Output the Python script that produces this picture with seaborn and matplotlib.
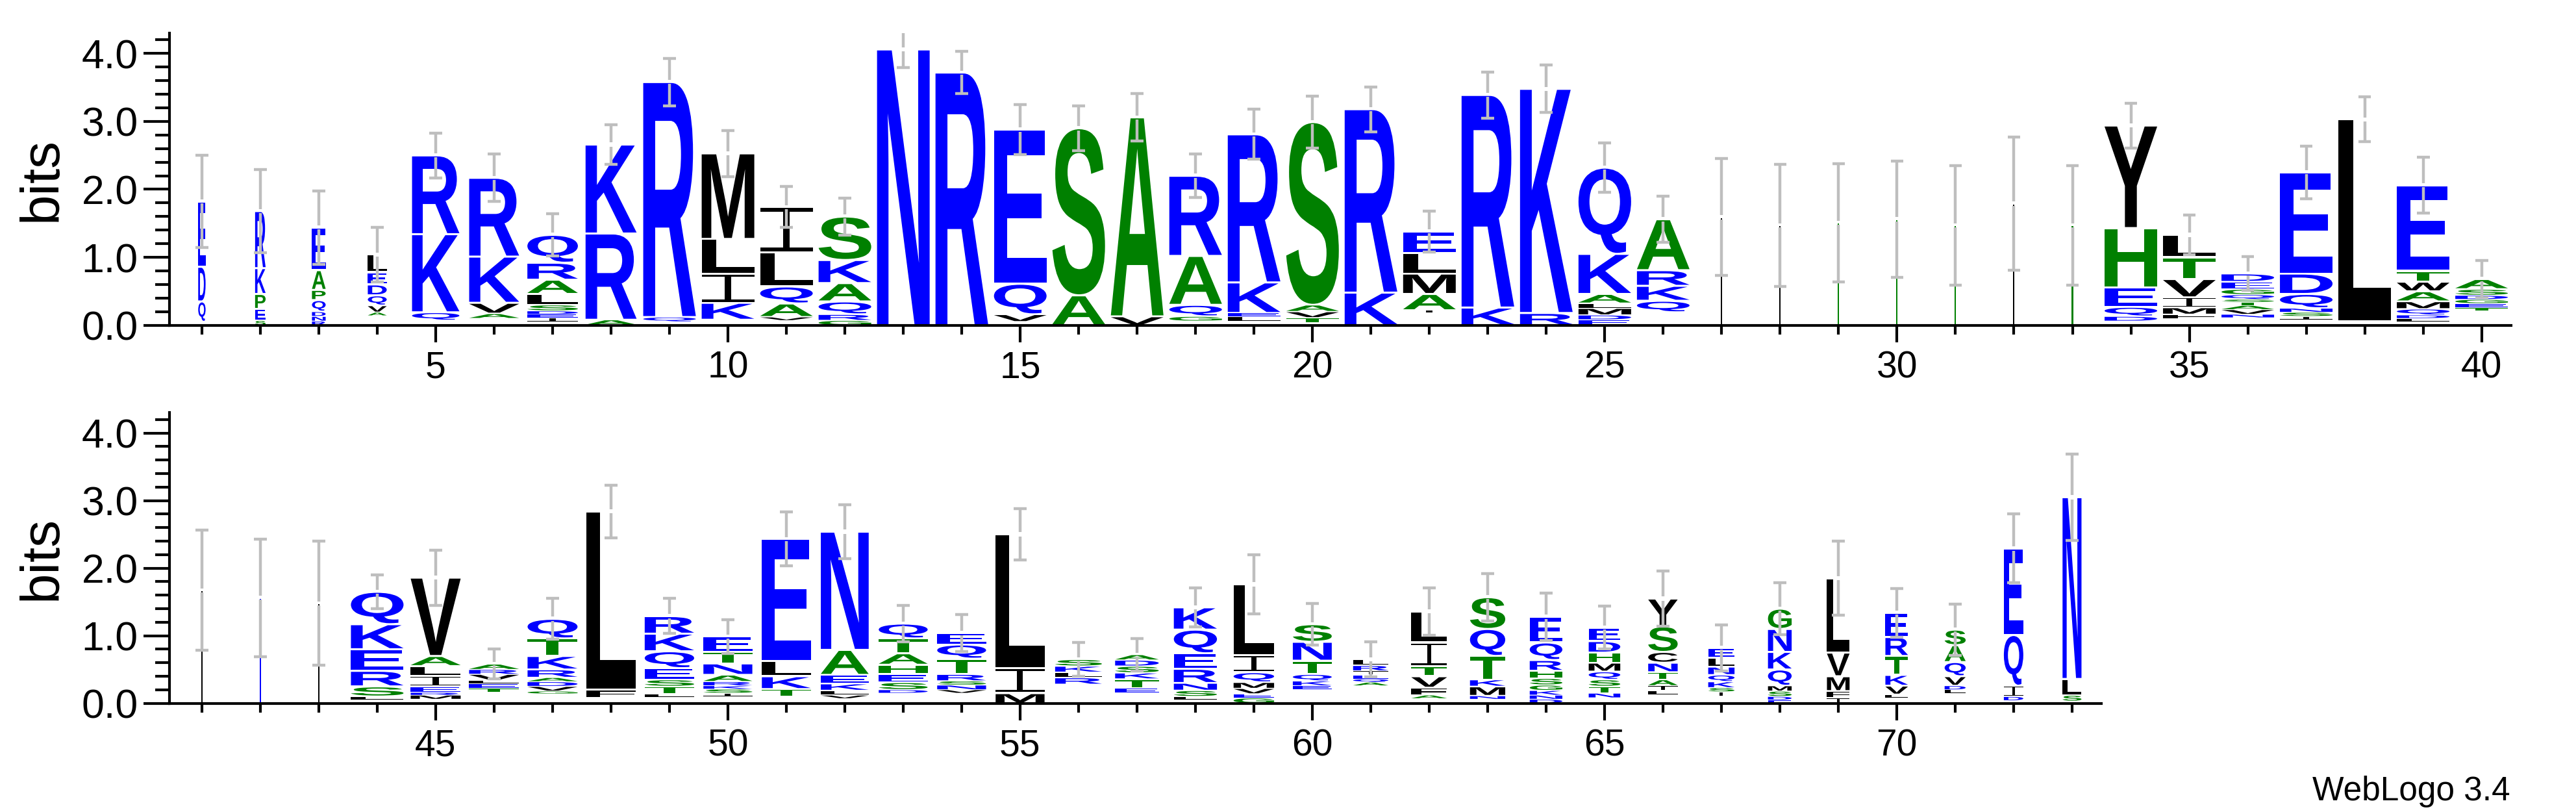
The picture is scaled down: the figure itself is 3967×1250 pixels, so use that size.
import numpy as np
import matplotlib
matplotlib.use("Agg")
import matplotlib.pyplot as plt
import seaborn as sns
from matplotlib.textpath import TextPath
from matplotlib.font_manager import FontProperties
from matplotlib.patches import PathPatch, Rectangle
from matplotlib.path import Path
from matplotlib.transforms import Affine2D
from matplotlib.ticker import FixedLocator

# ---------------- data ----------------
positions_top = list(range(1, 41))
letters_top = [
    "-QDE", "SEPKR", "RNDQPAE", "-AVQDEL", "-QKR", "-AVKR", "-IEDSLARQ", "ARK",
    "-QR", "-KILM", "-VAQLI", "GRQAKS", "N", "R", "-VQE", "AS", "VA", "-GQAR",
    "-LEKR", "-TVAS", "KR", "-IAMLE", "KR", "RK", "EDMLAKQ", "-QKRA",
    "L", "L", "S", "S", "S", "L", "S",
    "-DQEHY", "-FMIVTL", "-NVATSQGED", "-ISNQDE", "-L", "-LDQMAWTE", "-TEGDSA",
]
heights_top = [
    [0.05, 0.30, 0.51, 0.96],
    [0.07, 0.17, 0.22, 0.38, 0.84],
    [0.06, 0.07, 0.07, 0.17, 0.15, 0.29, 0.63],
    [0.14, 0.05, 0.10, 0.15, 0.16, 0.18, 0.26],
    [0.07, 0.12, 1.15, 1.16],
    [0.10, 0.07, 0.16, 0.68, 1.16],
    [0.05, 0.06, 0.05, 0.05, 0.09, 0.16, 0.21, 0.25, 0.41],
    [0.08, 1.27, 1.31],
    [0.05, 0.07, 3.46],
    [0.08, 0.25, 0.43, 0.51, 1.26],
    [0.07, 0.05, 0.20, 0.25, 0.50, 0.67],
    [0.07, 0.09, 0.19, 0.27, 0.34, 0.64],
    [4.06],
    [3.72],
    [0.05, 0.11, 0.45, 2.27],
    [0.44, 2.46],
    [0.13, 2.93],
    [0.06, 0.07, 0.17, 0.72, 1.18],
    [0.06, 0.07, 0.05, 0.45, 2.18],
    [0.04, 0.07, 0.09, 0.10, 2.69],
    [0.48, 2.70],
    [0.18, 0.04, 0.24, 0.30, 0.30, 0.32],
    [0.26, 3.13],
    [0.18, 3.30],
    [0.08, 0.07, 0.10, 0.07, 0.14, 0.59, 1.27],
    [0.19, 0.17, 0.22, 0.23, 0.75],
    [1.59], [1.47], [1.51], [1.56], [1.47], [1.79], [1.47],
    [0.06, 0.07, 0.14, 0.29, 0.87, 1.51],
    [0.10, 0.06, 0.10, 0.15, 0.27, 0.32, 0.33],
    [0.11, 0.05, 0.07, 0.06, 0.05, 0.04, 0.07, 0.08, 0.11, 0.12],
    [0.08, 0.05, 0.06, 0.06, 0.21, 0.30, 1.49],
    [0.06, 2.97],
    [0.05, 0.05, 0.05, 0.09, 0.11, 0.15, 0.14, 0.16, 1.26],
    [0.21, 0.05, 0.06, 0.06, 0.06, 0.09, 0.15],
]
errors_top = [0.68, 0.61, 0.54, 0.40, 0.33, 0.35, 0.31, 0.29, 0.35, 0.34,
              0.30, 0.27, 0.27, 0.31, 0.37, 0.33, 0.35, 0.32, 0.37, 0.38,
              0.33, 0.30, 0.34, 0.35, 0.36, 0.34, 0.86, 0.90, 0.87, 0.86,
              0.88, 0.98, 0.88, 0.33, 0.29, 0.25, 0.39, 0.33, 0.41, 0.27]
widths_top = [0.14, 0.20, 0.26, 0.36, 0.90, 0.95, 0.96, 0.97, 1, 1,
              1, 1, 1, 1, 1, 1, 1, 1, 1, 1,
              1, 1, 1, 1, 1, 1, 0.025, 0.025, 0.025, 0.025,
              0.025, 0.025, 0.025, 1, 1, 1, 1, 1, 1, 1]

positions_bot = list(range(41, 74))
letters_bot = [
    "L", "E", "L", "-LSREKQ", "-MREILAV", "-TELVRA", "-GVDARKTQ", "-FL",
    "-LTSEQKR", "-ISKRANTE", "-TKLE", "-VLKEAN", "-DSEHATQ", "-VNSRTQE", "MIL",
    "-RLKS", "-ETKSDA", "-LSNREQK", "GEVMQIL", "-EKQTNS", "-AQEIRL", "-AFVTIL",
    "-NMKTQS", "DNKGSHRQE", "-NTSQMHDE", "-LIATNCSY", "-ISKQNLE", "EDSMQKNG",
    "IFMVL", "-LVKTRE", "-LDVQAS", "-DIQE", "-SLN",
]
heights_bot = [
    [1.67], [1.56], [1.48],
    [0.05, 0.05, 0.15, 0.23, 0.32, 0.37, 0.48],
    [0.06, 0.06, 0.04, 0.09, 0.16, 0.14, 0.15, 1.16],
    [0.16, 0.06, 0.07, 0.05, 0.09, 0.07, 0.08],
    [0.14, 0.04, 0.07, 0.07, 0.06, 0.12, 0.20, 0.26, 0.29],
    [0.08, 0.12, 2.64],
    [0.09, 0.05, 0.11, 0.10, 0.17, 0.25, 0.26, 0.26],
    [0.10, 0.05, 0.06, 0.05, 0.06, 0.10, 0.17, 0.17, 0.23],
    [0.10, 0.11, 0.19, 0.23, 1.80],
    [0.07, 0.05, 0.07, 0.10, 0.13, 0.37, 1.75],
    [0.15, 0.05, 0.11, 0.12, 0.14, 0.17, 0.22, 0.22],
    [0.15, 0.05, 0.07, 0.06, 0.10, 0.23, 0.21, 0.17],
    [0.15, 0.37, 1.98],
    [0.28, 0.10, 0.08, 0.09, 0.10],
    [0.15, 0.07, 0.14, 0.09, 0.10, 0.09, 0.08],
    [0.05, 0.05, 0.09, 0.11, 0.21, 0.23, 0.35, 0.33],
    [0.08, 0.06, 0.08, 0.09, 0.15, 0.25, 1.05],
    [0.20, 0.06, 0.07, 0.10, 0.20, 0.28, 0.26],
    [0.26, 0.05, 0.05, 0.06, 0.06, 0.08, 0.09],
    [0.07, 0.05, 0.11, 0.17, 0.15, 0.35, 0.46],
    [0.06, 0.05, 0.14, 0.10, 0.35, 0.40, 0.47],
    [0.06, 0.06, 0.07, 0.08, 0.10, 0.11, 0.16, 0.26, 0.38],
    [0.08, 0.07, 0.10, 0.10, 0.12, 0.13, 0.15, 0.17, 0.20],
    [0.12, 0.07, 0.07, 0.09, 0.11, 0.14, 0.16, 0.38, 0.41],
    [0.10, 0.07, 0.06, 0.09, 0.10, 0.12, 0.13, 0.15],
    [0.05, 0.05, 0.08, 0.08, 0.24, 0.26, 0.34, 0.30],
    [0.08, 0.10, 0.22, 0.35, 1.10],
    [0.08, 0.05, 0.13, 0.16, 0.28, 0.28, 0.36],
    [0.15, 0.05, 0.06, 0.14, 0.21, 0.25, 0.23],
    [0.04, 0.06, 0.16, 0.75, 1.28],
    [0.03, 0.09, 0.24, 2.69],
]
errors_bot = [0.89, 0.87, 0.92, 0.25, 0.41, 0.22, 0.30, 0.39, 0.26, 0.25,
              0.40, 0.40, 0.27, 0.27, 0.38, 0.25, 0.24, 0.29, 0.44, 0.31,
              0.26, 0.35, 0.35, 0.35, 0.32, 0.41, 0.34, 0.38, 0.55, 0.36,
              0.38, 0.51, 0.64]
widths_bot = [0.025, 0.025, 0.025, 1.0, 0.95, 0.95, 0.95, 0.94, 0.94, 0.93,
              0.93, 0.91, 0.93, 0.93, 0.93, 0.89, 0.83, 0.82, 0.77, 0.74,
              0.67, 0.68, 0.67, 0.62, 0.60, 0.56, 0.50, 0.45, 0.43, 0.43,
              0.40, 0.37, 0.36]

tick_labels_y = ["0.0", "1.0", "2.0", "3.0", "4.0"]

# hydrophobicity colour scheme
BLUE, GREEN, BLACK = "#0000FF", "#008000", "#000000"
letter_colors = {}
for ch in "RKDENQ":
    letter_colors[ch] = BLUE
for ch in "SGHTAP":
    letter_colors[ch] = GREEN
for ch in "YVMCLFIW":
    letter_colors[ch] = BLACK

# ---------------- style ----------------
sns.set_theme(style="ticks", rc={
    "axes.linewidth": 3.0,
    "xtick.major.width": 3.0, "xtick.minor.width": 3.0,
    "ytick.major.width": 3.0, "ytick.minor.width": 3.0,
    "xtick.major.size": 19, "xtick.minor.size": 10,
    "ytick.major.size": 29, "ytick.minor.size": 16,
    "axes.edgecolor": "black",
    "xtick.color": "black", "ytick.color": "black",
    "axes.labelcolor": "black", "text.color": "black",
})
plt.rcParams["font.family"] = ["Liberation Sans", "DejaVu Sans"]

glyph_font = FontProperties(family="Liberation Sans", weight="bold")
_glyphs = {}


def serif_i_path(t=0.085, s=0.12):
    a, b = 0.5 - s / 2, 0.5 + s / 2
    verts = [(0, 0), (1, 0), (1, t), (b, t), (b, 1 - t), (1, 1 - t), (1, 1),
             (0, 1), (0, 1 - t), (a, 1 - t), (a, t), (0, t), (0, 0)]
    codes = [Path.MOVETO] + [Path.LINETO] * 11 + [Path.CLOSEPOLY]
    return Path(verts, codes)


def unit_glyph(ch):
    if ch not in _glyphs:
        if ch == "I":
            _glyphs[ch] = serif_i_path()
        else:
            tp = TextPath((0, 0), ch, size=1, prop=glyph_font)
            pts = np.concatenate(tp.to_polygons())
            x0, y0 = pts.min(axis=0)
            x1, y1 = pts.max(axis=0)
            tr = Affine2D().translate(-x0, -y0).scale(1.0 / (x1 - x0), 1.0 / (y1 - y0))
            _glyphs[ch] = tr.transform_path(tp)
    return _glyphs[ch]


FULL_W = 0.9
ERR_COLOR = "#BEBEBE"
ERR_LW = 3.2


def draw_logo(ax, positions, letters, heights, widths, errors):
    for pos, lets, hs, wf, err in zip(positions, letters, heights, widths, errors):
        w = FULL_W * wf
        y = 0.0
        for ch, h in zip(lets, hs):
            if ch != "-":
                gap = min(0.03, 0.2 * h)
                col = letter_colors[ch]
                if wf < 0.1:
                    # glyph squeezed to a hair line: render its ink box
                    ax.add_patch(Rectangle((pos - w / 2, y), w, h - gap / 2,
                                           facecolor=col, edgecolor="none", lw=0, zorder=2))
                else:
                    path = Affine2D().scale(w, h - gap).translate(pos - w / 2, y + gap / 2) \
                        .transform_path(unit_glyph(ch))
                    ax.add_patch(PathPatch(path, facecolor=col, edgecolor="none",
                                           lw=0, zorder=2))
            y += h
        top = y
        ax.vlines(pos, top + 0.03, top + err, color=ERR_COLOR, lw=ERR_LW, zorder=3)
        ax.vlines(pos, top - err, top - 0.03, color=ERR_COLOR, lw=ERR_LW, zorder=3)
        ax.hlines([top + err, top - err], pos - 0.11, pos + 0.11,
                  color=ERR_COLOR, lw=ERR_LW, zorder=3)


def style_axis(ax, xmin, xmax, first, last):
    ax.set_xlim(xmin, xmax)
    ax.set_ylim(0, 4.3)
    ax.set_yticks([0, 1, 2, 3, 4])
    ax.set_yticklabels(tick_labels_y)
    ax.yaxis.set_minor_locator(FixedLocator([v for v in np.round(np.arange(0.2, 4.3, 0.2), 1)
                                             if abs(v - round(v)) > 1e-6]))
    majors = [p for p in range(first, last + 1) if p % 5 == 0]
    ax.set_xticks(majors)
    ax.set_xticklabels([str(p) for p in majors])
    ax.xaxis.set_minor_locator(FixedLocator([p for p in range(first, last + 1) if p % 5 != 0]))
    ax.tick_params(axis="y", which="both", labelsize=45, pad=6)
    ax.tick_params(axis="x", which="both", labelsize=41, pad=9)
    ax.set_ylabel("bits", fontsize=60, labelpad=16)
    sns.despine(ax=ax)


fig = plt.figure(figsize=(39.67, 12.5), dpi=100)
ax_top = fig.add_axes([0.0659, 0.5995, 0.9088, 0.3597])
ax_bot = fig.add_axes([0.0659, 0.1339, 0.7498, 0.3578])

draw_logo(ax_top, positions_top, letters_top, heights_top, widths_top, errors_top)
draw_logo(ax_bot, positions_bot, letters_bot, heights_bot, widths_bot, errors_bot)
style_axis(ax_top, 0.45, 40.5, 1, 40)
style_axis(ax_bot, 40.45, 73.5, 41, 73)

fig.text(3866 / 3967, 1 - 1232 / 1250, "WebLogo 3.4", ha="right", va="baseline", fontsize=37)

fig.savefig("out.png", dpi=100)
